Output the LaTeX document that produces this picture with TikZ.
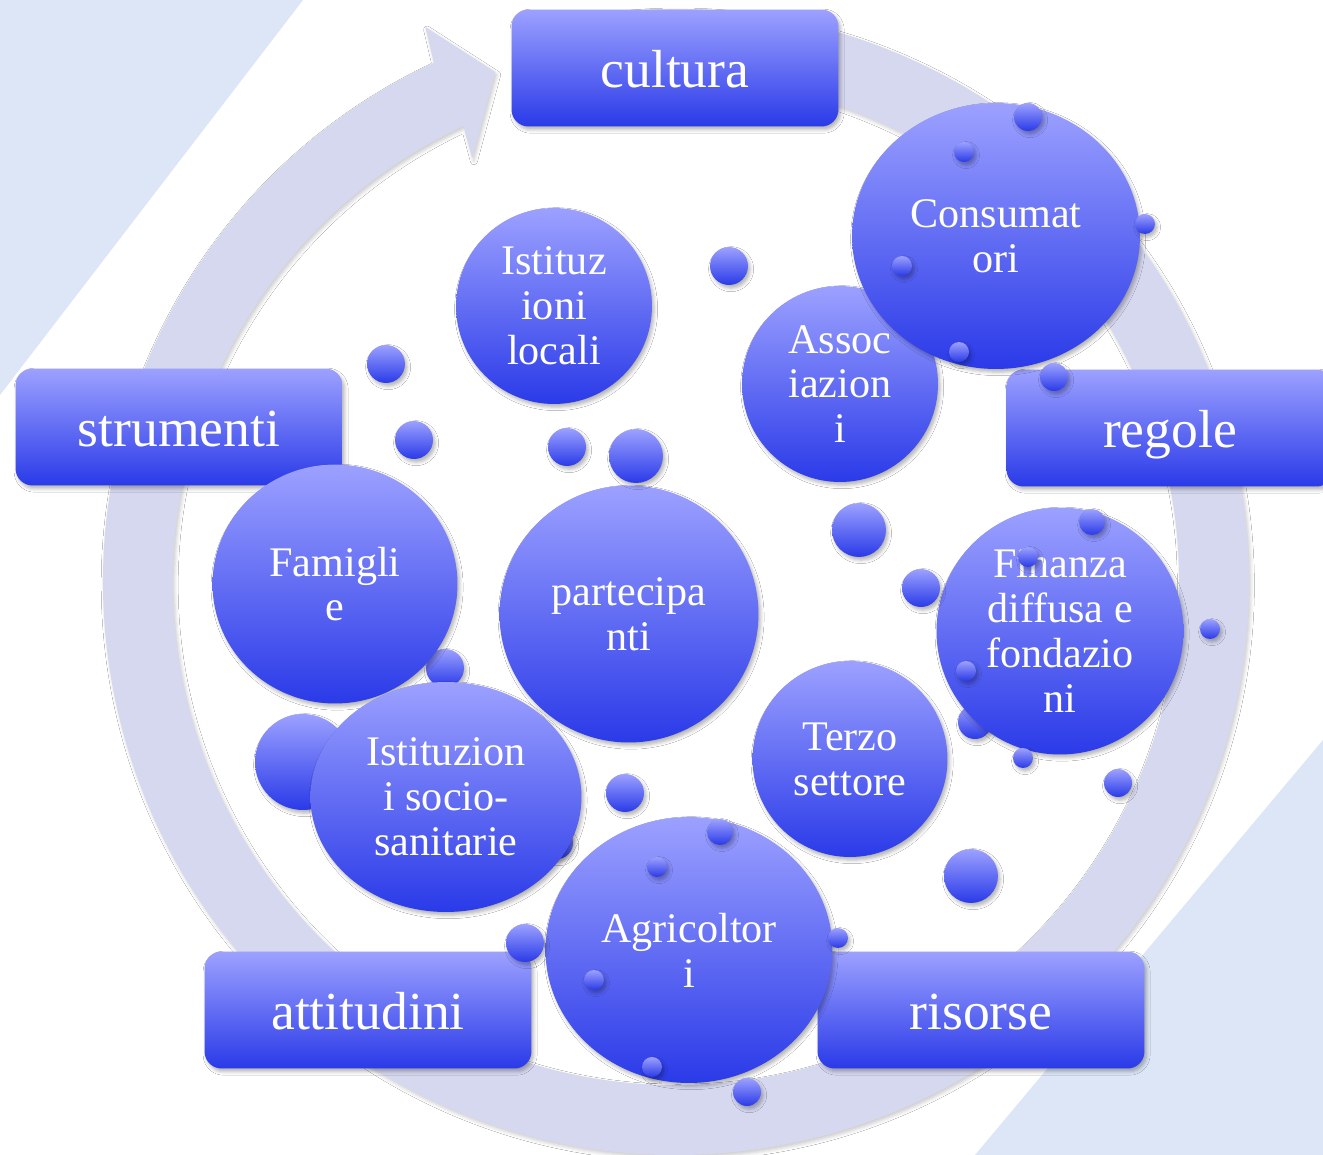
\documentclass[tikz,border=0pt]{standalone}
\usepackage{fontspec}
\setmainfont{Liberation Serif}
\usetikzlibrary{shapes.geometric,shadows.blur}
\definecolor{btop}{RGB}{156,161,255}
\definecolor{bbot}{RGB}{42,58,232}
\definecolor{ringc}{RGB}{214,216,240}
\definecolor{tri}{RGB}{220,230,246}
\tikzset{
  grad/.style={top color=btop, bottom color=bbot, draw=none},
  shad/.style={blur shadow={shadow xshift=1.2pt, shadow yshift=-1.8pt, shadow blur radius=2pt, shadow opacity=30}},
  bigbub/.style={ellipse, grad, shad, inner sep=0pt, text=white, align=center, font=\fontsize{24}{25.5}\selectfont},
  sb/.style={circle, grad, shad, inner sep=0pt, minimum size=#1*0.04cm},
  labbox/.style={rectangle, rounded corners=0.34cm, grad, shad, minimum width=6.54cm, minimum height=2.34cm, inner sep=0pt, text=white, text height=0.8cm, text depth=0cm, font=\fontsize{30.5}{36}\selectfont},
  ringshad/.style={blur shadow={shadow xshift=1pt, shadow yshift=-1.5pt, shadow blur radius=2pt, shadow opacity=20}}
}
\begin{document}
\begin{tikzpicture}[x=0.02cm,y=-0.02cm]
\clip (0,0) rectangle (1323,1155);
\fill[white] (0,0) rectangle (1323,1155);
% background triangles
\fill[tri] (0,0) -- (303,0) -- (0,395) -- cycle;
\fill[tri] (1323,740) -- (1323,1155) -- (975,1155) -- cycle;
% circular arrow
\begin{scope}[shift={(676,582)}, yscale=-1]
\fill[ringc, ringshad] (100:573) arc[start angle=100, end angle=-245, radius=573]
  -- (-245.7:609) -- (-250.5:541) -- (-244.3:470) -- (-245:503)
  arc[start angle=-245, end angle=100, radius=503] -- cycle;
\end{scope}
% boxes
\node[labbox] (cultura) at (675,68) {cultura};
\node[labbox] (regole) at (1170,428) {regole};
\node[labbox] (strumenti) at (179,427) {strumenti};
\node[labbox] (attitudini) at (368,1010) {attitudini};
\node[labbox] (risorse) at (981,1010) {risorse};
% small bubbles behind
\node[sb=48] (k1) at (303,762) {};
\node[sb=19] (k2) at (445,668) {};
\node[sb=16] (k3) at (557,843) {};
\node[sb=17] (k4) at (975,722) {};
% big bubbles
\node[bigbub, minimum width=3.92cm, minimum height=3.92cm] (istloc) at (554,306) {Istituz\\ioni\\locali};
\node[bigbub, minimum width=3.92cm, minimum height=3.92cm] (assoc) at (840,384) {Assoc\\iazion\\i};
\node[bigbub, minimum width=5.76cm, minimum height=5.32cm] (cons) at (996,236) {Consumat\\ori};
\node[bigbub, minimum width=5.18cm, minimum height=5.14cm] (part) at (629,614) {partecipa\\nti};
\node[bigbub, minimum width=4.9cm, minimum height=4.78cm] (fam) at (335,584) {Famigli\\e};
\node[bigbub, minimum width=5.42cm, minimum height=4.6cm] (socio) at (446,797) {Istituzion\\i socio-\\sanitarie};
\node[bigbub, minimum width=3.9cm, minimum height=3.92cm] (terzo) at (850,759) {Terzo\\settore};
\node[bigbub, minimum width=4.94cm, minimum height=4.94cm] (fin) at (1060,631) {Finanza\\diffusa e\\fondazio\\ni};
\node[bigbub, minimum width=5.74cm, minimum height=5.32cm] (agri) at (689,950) {Agricoltor\\i};
% small bubbles in front
\node[sb=14] (c1) at (1028,117) {};
\node[sb=10] (c2) at (964,152) {};
\node[sb=10] (c3) at (1145,224) {};
\node[sb=10] (c4) at (902,266) {};
\node[sb=10] (c5) at (959,352) {};
\node[sb=14] (c6) at (1054,377) {};
\node[sb=19] (f1) at (729,266) {};
\node[sb=19] (f2) at (386,364) {};
\node[sb=19] (f3) at (414,440) {};
\node[sb=19] (f4) at (567,447) {};
\node[sb=27] (f5) at (636,456) {};
\node[sb=27] (f6) at (859,530) {};
\node[sb=19] (f7) at (921,588) {};
\node[sb=19] (f8) at (625,793) {};
\node[sb=27] (f9) at (971,876) {};
\node[sb=14] (f10) at (1118,783) {};
\node[sb=13] (n1) at (1092,522) {};
\node[sb=10] (n2) at (1028,557) {};
\node[sb=10] (n3) at (966,671) {};
\node[sb=10] (n4) at (1023,758) {};
\node[sb=10] (n5) at (1210,629) {};
\node[sb=13] (a1) at (720,832) {};
\node[sb=10] (a2) at (657,867) {};
\node[sb=19] (a3) at (525,943) {};
\node[sb=10] (a4) at (594,980) {};
\node[sb=10] (a5) at (838,938) {};
\node[sb=10] (a6) at (652,1067) {};
\node[sb=14] (a7) at (747,1092) {};
\end{tikzpicture}
\end{document}
